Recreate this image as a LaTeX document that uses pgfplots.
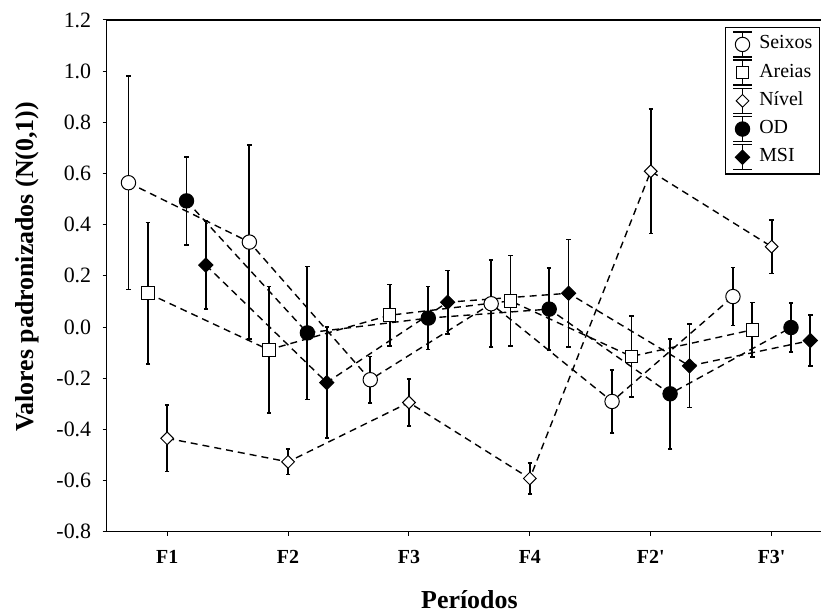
\documentclass[border=0pt]{standalone}
\usepackage{pgfplots}
\pgfplotsset{compat=1.18}
\usepackage{fontspec}
\setmainfont{Liberation Serif}

% error-bar legend symbol: vertical bar with caps, mark in the middle
\pgfplotsset{
  ebleg/.style={
    legend image code/.code={
      \draw[black,solid,line width=1.5bp]
        (0bp,-12.5bp) -- (0bp,12.5bp)
        (-9.5bp,12.5bp) -- (9.5bp,12.5bp)
        (-9.5bp,-12.5bp) -- (9.5bp,-12.5bp);
      \draw[##1,only marks] plot coordinates {(0bp,0bp)};
    }
  }
}

\begin{document}
\begin{tikzpicture}
\begin{axis}[
  name=ax,
  scale only axis,
  width=725.4bp, height=511.7bp,
  xmin=0.5, xmax=6.5,
  ymin=-0.8, ymax=1.2,
  xtick={1,2,3,4,5,6},
  xticklabels={F1,F2,F3,F4,F2\textquotesingle,F3\textquotesingle},
  ytick={-0.8,-0.6,-0.4,-0.2,0,0.2,0.4,0.6,0.8,1.0,1.2},
  yticklabels={-0.8,-0.6,-0.4,-0.2,0.0,0.2,0.4,0.6,0.8,1.0,1.2},
  xtick pos=bottom, ytick pos=left,
  tick align=outside,
  major tick length=4bp,
  axis line style={line width=1.4bp},
  tick style={line width=1bp,black},
  x tick label style={font=\fontsize{20}{24}\selectfont\bfseries, yshift=-11bp},
  y tick label style={font=\fontsize{22}{26}\selectfont, xshift=-8bp},
  xlabel={Períodos},
  ylabel={Valores padronizados (N(0,1))},
  every axis x label/.style={at={(axis description cs:0.5,0)}, anchor=base, yshift=-76.3bp,
    font=\fontsize{26}{30}\selectfont\bfseries},
  every axis y label/.style={at={(axis description cs:0,0.5)}, xshift=-73bp, yshift=9bp,
    rotate=90, anchor=base, font=\fontsize{26}{30}\selectfont\bfseries},
  legend style={at={(rel axis cs:1,1)}, anchor=north east, xshift=-12bp, yshift=-7bp,
    draw=black, line width=1.4bp, inner xsep=7bp, inner ysep=3.5bp,
    font=\fontsize{20}{24}\selectfont, row sep=1.7bp, column sep=6.5bp,
    nodes={inner sep=0pt, text height=14bp, text depth=5bp},
    cells={anchor=west}},
  legend cell align=left,
  every axis plot/.append style={black, line width=1.4bp, dash pattern=on 7bp off 5bp},
  error bars/y dir=both, error bars/y explicit,
  error bars/error bar style={line width=1.8bp, solid, black},
  error bars/error mark options={rotate=90, mark size=2.2bp, line width=1.6bp, solid, black},
  clip=false,
]
\addplot[ebleg, mark=*, mark size=7.2bp, mark options={solid, line width=1bp, fill=white}]
  table[x=x, y=y, y error=e] {
  x     y      e
  0.68  0.564  0.417
  1.68  0.332  0.380
  2.68 -0.206  0.090
  3.68  0.091  0.170
  4.68 -0.291  0.124
  5.68  0.119  0.113
};
\addlegendentry{Seixos}
\addplot[ebleg, mark=square*, mark size=6.3bp, mark options={solid, line width=1bp, fill=white}]
  table[x=x, y=y, y error=e] {
  x     y      e
  0.84  0.132  0.276
  1.84 -0.089  0.247
  2.84  0.046  0.120
  3.84  0.102  0.177
  4.84 -0.115  0.158
  5.84 -0.011  0.107
};
\addlegendentry{Areias}
\addplot[ebleg, mark=square*, mark size=4.5bp, mark options={solid, line width=1bp, fill=white, rotate=45}]
  table[x=x, y=y, y error=e] {
  x     y      e
  1.00 -0.435  0.130
  2.00 -0.527  0.050
  3.00 -0.295  0.092
  4.00 -0.592  0.060
  5.00  0.609  0.243
  6.00  0.314  0.105
};
\addlegendentry{Nível}
\addplot[ebleg, mark=*, mark size=7.2bp, mark options={solid, line width=1bp, fill=black}]
  table[x=x, y=y, y error=e] {
  x     y      e
  1.16  0.493  0.172
  2.16 -0.023  0.260
  3.16  0.035  0.123
  4.16  0.070  0.160
  5.16 -0.261  0.215
  6.16 -0.002  0.095
};
\addlegendentry{OD}
\addplot[ebleg, mark=square*, mark size=5bp, mark options={solid, line width=1bp, fill=black, rotate=45}]
  table[x=x, y=y, y error=e] {
  x     y      e
  1.32  0.242  0.172
  2.32 -0.217  0.216
  3.32  0.097  0.124
  4.32  0.132  0.210
  5.32 -0.152  0.163
  6.32 -0.053  0.100
};
\addlegendentry{MSI}
\end{axis}
\pgfresetboundingbox
\path ([xshift=-106.7bp,yshift=-81.3bp]ax.south west) rectangle ([xshift=714.3bp,yshift=20bp]ax.north west);
\end{tikzpicture}
\end{document}
